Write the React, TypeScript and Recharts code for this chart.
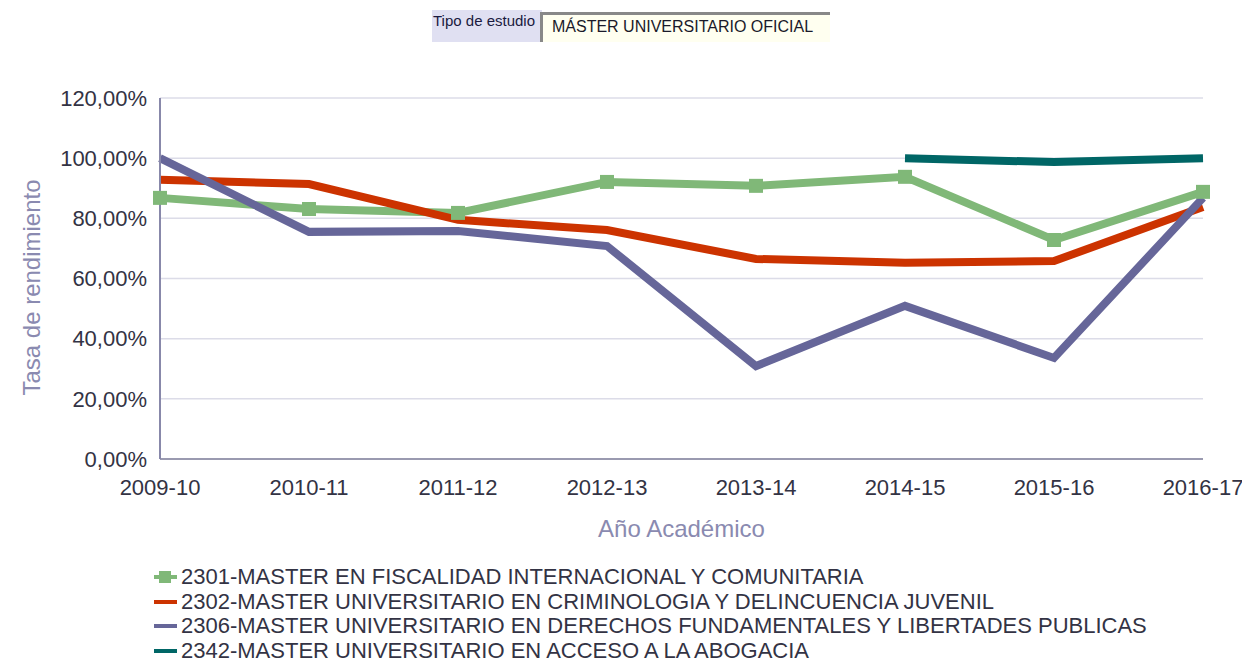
import React from 'react';
import { LineChart, Line, XAxis, YAxis, CartesianGrid } from 'recharts';

const years = ['2009-10', '2010-11', '2011-12', '2012-13', '2013-14', '2014-15', '2015-16', '2016-17'];
const fiscalidad = [86.8, 83.1, 81.8, 92.1, 90.8, 93.8, 72.8, 88.8];
const criminologia = [92.8, 91.4, 79.5, 76.1, 66.5, 65.2, 65.8, 83.8];
const derechos = [100, 75.5, 75.8, 70.8, 30.9, 50.9, 33.6, 86.8];
const abogacia: (number | null)[] = [null, null, null, null, null, 100, 98.7, 100];
const yTicks = [0, 20, 40, 60, 80, 100, 120];

const series = [
  { key: 's2301', name: '2301-MASTER EN FISCALIDAD INTERNACIONAL Y COMUNITARIA', color: '#80b878', marker: true },
  { key: 's2302', name: '2302-MASTER UNIVERSITARIO EN CRIMINOLOGIA Y DELINCUENCIA JUVENIL', color: '#cc3300', marker: false },
  { key: 's2306', name: '2306-MASTER UNIVERSITARIO EN DERECHOS FUNDAMENTALES Y LIBERTADES PUBLICAS', color: '#666699', marker: false },
  { key: 's2342', name: '2342-MASTER UNIVERSITARIO EN ACCESO A LA ABOGACIA', color: '#006666', marker: false },
];

const data = years.map((y, i) => ({
  year: y,
  s2301: fiscalidad[i],
  s2302: criminologia[i],
  s2306: derechos[i],
  s2342: abogacia[i],
}));

const font = '"Liberation Sans", Arial, sans-serif';

const SquareDot = (props: any) => {
  const { cx, cy } = props;
  if (cx == null || cy == null) return null;
  return <rect x={cx - 7} y={cy - 7} width={14} height={14} fill="#80b878" />;
};

const LegendBox = () => (
  <div
    style={{
      position: 'absolute', left: 152, top: 565, fontFamily: font, fontSize: 22,
      color: '#333344', lineHeight: '24.5px',
    }}
  >
    {series.map((s) => (
      <div key={s.key} style={{ display: 'flex', alignItems: 'center', whiteSpace: 'nowrap' }}>
        <svg width={28} height={16} style={{ marginRight: 1 }}>
          <line x1={2} y1={8} x2={25} y2={8} stroke={s.color} strokeWidth={4} />
          {s.marker && <rect x={7} y={2} width={12} height={12} fill={s.color} />}
        </svg>
        <span>{s.name}</span>
      </div>
    ))}
  </div>
);

export default function App() {
  return (
    <div style={{ position: 'absolute', left: 0, top: 0, width: 1242, height: 661, background: '#fff', fontFamily: font }}>
      <div
        style={{
          position: 'absolute', left: 432, top: 10, width: 110, height: 32, background: '#e0e0f2',
          fontSize: 15, color: '#1a1a40', overflow: 'hidden', whiteSpace: 'nowrap', padding: '2px 0 0 1px', boxSizing: 'border-box',
        }}
      >
        Tipo de estudio
      </div>
      <div
        style={{
          position: 'absolute', left: 540, top: 12, width: 290, height: 30, background: '#fffff0',
          borderTop: '3px solid #888', borderLeft: '3px solid #888', boxSizing: 'border-box',
          fontSize: 16, color: '#1a1a2a', padding: '3px 0 0 9px', whiteSpace: 'nowrap',
        }}
      >
        MÁSTER UNIVERSITARIO OFICIAL
      </div>
      <LineChart
        width={1242}
        height={661}
        data={data}
        margin={{ top: 98, right: 39, left: 0, bottom: 172 }}
        style={{ fontFamily: font }}
      >
        <CartesianGrid vertical={false} stroke="#dcdce8" strokeWidth={1.5} />
        <XAxis
          dataKey="year"
          height={30}
          tickLine={false}
          axisLine={{ stroke: '#9a9ab0', strokeWidth: 2 }}
          tick={{ fill: '#333344', fontSize: 22 }}
          tickMargin={14}
          label={{ value: 'Año Académico', position: 'bottom', offset: 31, fill: '#8a8ab0', fontSize: 24 }}
        />
        <YAxis
          width={160}
          domain={[0, 120]}
          ticks={yTicks}
          interval={0}
          tickLine={false}
          axisLine={{ stroke: '#8888aa', strokeWidth: 2 }}
          tick={{ fill: '#333344', fontSize: 22 }}
          tickMargin={7}
          tickFormatter={(v: number) => `${v.toFixed(2).replace('.', ',')}%`}
          label={{ value: 'Tasa de rendimiento', angle: -90, position: 'insideLeft', offset: 31, textAnchor: 'middle', dy: 9, fill: '#8a8ab0', fontSize: 24 }}
        />
        {series.map((s) => (
          <Line
            key={s.key}
            dataKey={s.key}
            name={s.name}
            type="linear"
            stroke={s.color}
            strokeWidth={8}
            dot={false}
            activeDot={false}
            isAnimationActive={false}
          />
        ))}
        <Line
          dataKey="s2301"
          stroke="none"
          legendType="none"
          dot={<SquareDot />}
          activeDot={false}
          isAnimationActive={false}
        />
      </LineChart>
      <LegendBox />
    </div>
  );
}
